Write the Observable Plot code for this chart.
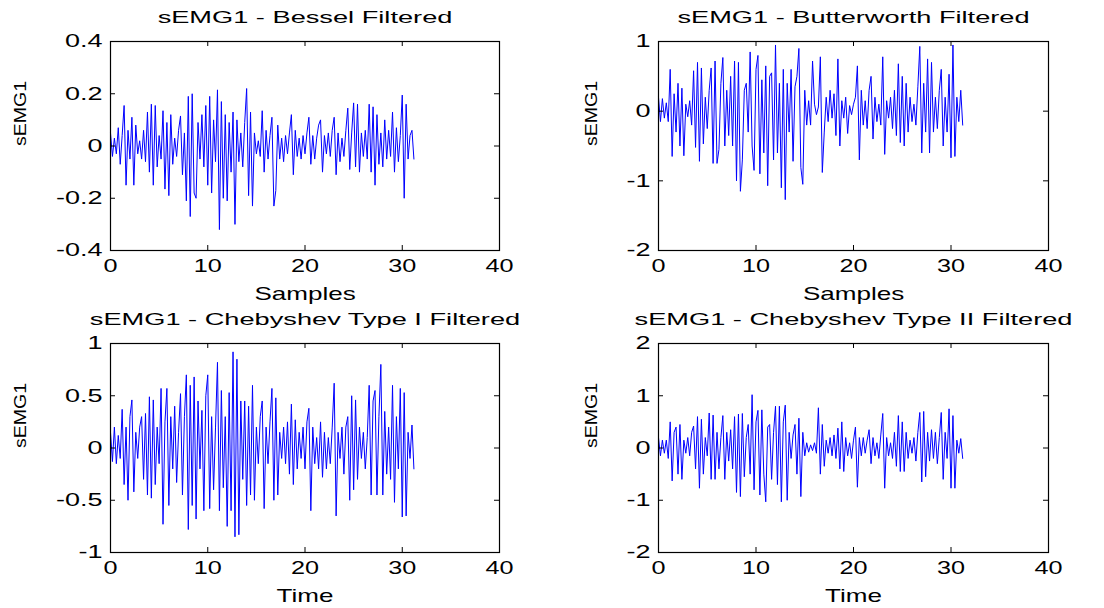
<!DOCTYPE html>
<html><head><meta charset="utf-8">
<script src="https://cdn.jsdelivr.net/npm/d3@7"></script>
<script src="https://cdn.jsdelivr.net/npm/@observablehq/plot@0.6"></script>
<style>
body{margin:0;background:#fff;}
#wrap{position:relative;width:1104px;height:608px;overflow:hidden;}
.panel{position:absolute;}
svg text{font-family:"Liberation Sans",Arial,sans-serif;}
</style></head><body><div id="wrap"></div>
<script>
const dt = 0.2;
const xTicks = [0, 10, 20, 30, 40];

const bessel = [
 0.05,-0.04,0.03,-0.03,0.07,-0.07,0.04,0.155,-0.15,0.06,
 -0.05,0.11,-0.15,0.08,-0.03,0.02,-0.05,0.06,-0.06,0.13,
 -0.1,0.16,-0.15,0.155,-0.08,0.04,-0.05,0.135,-0.165,0.09,
 -0.19,0.12,-0.07,0.03,-0.04,0.06,0.115,-0.11,0.05,-0.21,
 0.19,-0.27,0.2,-0.18,-0.2,0.09,-0.05,0.12,-0.08,0.155,
 -0.15,0.19,-0.18,0.1,-0.06,0.215,-0.32,0.17,-0.2,0.12,
 -0.21,0.09,-0.1,0.13,-0.3,0.1,-0.06,0.05,-0.08,0.09,
 0.22,-0.19,0.13,-0.23,0.05,-0.03,0.02,-0.04,0.135,-0.1,
 0.06,-0.05,0.04,0.11,-0.23,-0.17,0.08,-0.05,0.03,-0.06,
 0.04,-0.03,0.05,0.12,-0.11,0.06,-0.04,0.03,-0.05,0.04,
 -0.03,0.05,0.11,-0.07,0.04,-0.05,0.03,0.08,0.1,-0.1,
 0.04,-0.03,0.05,-0.04,0.06,0.11,-0.11,0.05,-0.06,0.03,
 -0.04,0.06,0.145,-0.09,0.05,0.165,-0.08,0.16,-0.1,0.05,
 -0.04,0.06,-0.05,0.16,-0.1,0.15,-0.15,0.12,-0.07,0.05,
 -0.08,0.1,-0.05,0.06,-0.04,0.13,-0.1,0.07,-0.06,0.04,
 0.195,-0.2,0.16,-0.05,0.04,0.06,-0.05
];
const butterworth = [
 0.2,-0.15,0.18,-0.1,0.12,-0.15,0.6,-0.65,0.25,-0.3,
 0.4,-0.5,0.33,-0.64,0.1,-0.08,0.15,-0.2,0.58,-0.52,
 0.7,-0.72,0.62,-0.47,0.2,-0.25,0.3,0.62,-0.75,0.72,
 -0.75,-0.55,0.4,0.77,-0.5,0.3,-0.35,0.5,-0.5,0.72,
 -1.0,0.7,-1.15,-0.7,0.3,0.4,-0.3,0.85,-0.5,-0.85,
 0.6,0.8,-0.9,0.45,-0.6,0.65,-1.07,0.5,0.55,-0.7,
 0.95,-0.6,0.4,-1.1,0.6,-1.27,0.4,-0.3,0.6,-0.72,
 0.35,0.5,0.9,-0.81,-1.05,0.3,-0.2,0.15,-0.2,0.72,
 0.1,-0.05,0.06,0.78,-0.88,-0.3,0.2,-0.15,0.3,-0.1,
 0.25,-0.35,0.75,-0.5,0.15,-0.1,0.2,-0.32,0.08,-0.05,
 0.1,0.2,0.65,-0.7,0.3,-0.2,0.15,-0.25,0.3,0.5,
 -0.4,0.2,-0.15,0.1,-0.2,0.78,-0.62,0.15,-0.1,0.2,
 -0.25,0.3,-0.35,0.68,-0.45,0.5,-0.5,0.4,-0.3,0.2,
 -0.15,0.1,-0.2,0.35,0.93,-0.6,0.4,-0.3,0.75,-0.6,
 0.7,-0.3,0.2,-0.25,0.3,0.6,-0.5,0.2,-0.3,0.53,
 -0.67,0.95,-0.65,0.2,-0.15,0.3,-0.2
];
const chebyshev1 = [
 0.15,-0.13,0.2,-0.15,0.12,-0.1,0.37,-0.35,0.2,-0.5,
 0.3,0.46,-0.42,0.15,-0.1,0.2,0.3,-0.3,0.33,-0.45,
 0.49,-0.48,0.46,-0.35,0.2,-0.15,0.57,-0.73,0.25,0.57,
 -0.55,0.3,-0.2,0.4,-0.33,0.15,0.52,-0.45,0.3,0.7,
 -0.78,0.6,-0.55,0.68,-0.68,0.45,-0.2,0.36,-0.6,0.5,
 0.7,-0.58,0.3,-0.4,0.2,0.82,-0.6,0.55,-0.38,0.3,
 -0.75,0.53,-0.6,0.92,-0.85,0.85,-0.83,0.45,-0.3,0.45,
 -0.55,0.4,-0.45,0.6,-0.5,0.2,-0.15,0.3,0.45,-0.58,
 0.2,-0.15,0.25,0.57,-0.5,0.48,-0.45,0.15,-0.1,0.2,
 -0.15,0.25,-0.25,0.42,-0.35,0.27,-0.2,0.15,-0.1,0.2,
 -0.2,0.25,0.38,-0.6,0.2,-0.15,0.1,-0.2,0.25,-0.28,
 0.15,-0.2,0.1,-0.15,0.2,0.62,-0.65,0.15,-0.1,0.2,
 -0.25,0.2,0.3,-0.5,0.5,-0.4,0.46,-0.3,0.2,-0.1,
 0.15,-0.2,0.1,0.6,-0.45,0.45,0.55,-0.45,0.3,0.8,
 -0.45,0.35,-0.25,0.2,-0.3,0.6,-0.52,0.3,-0.2,0.57,
 -0.66,0.53,-0.65,0.15,-0.1,0.22,-0.2
];
const chebyshev2 = [
 0.2,-0.15,0.15,-0.1,0.15,-0.2,0.5,-0.63,0.3,0.4,
 -0.5,0.45,-0.6,0.15,-0.1,0.2,-0.15,0.3,0.42,-0.4,
 0.6,-0.77,0.55,-0.5,0.2,-0.15,0.67,-0.6,0.63,-0.6,
 0.3,-0.4,0.2,0.62,-0.6,0.3,-0.25,0.35,-0.4,0.6,
 -0.85,0.65,-0.93,0.66,-0.55,0.2,0.45,-0.5,1.02,-0.8,
 0.5,0.72,-0.9,0.73,-0.5,-1.03,0.4,0.45,-0.6,0.3,
 0.8,-0.7,0.8,-1.03,0.5,0.82,-1.0,0.3,-0.2,0.25,
 0.45,-0.5,0.57,-0.93,0.3,-0.15,0.1,-0.08,0.06,-0.05,
 0.1,-0.1,0.77,-0.5,0.45,-0.35,0.15,-0.1,0.2,-0.15,
 0.25,-0.2,0.38,-0.4,0.5,-0.45,0.2,-0.15,0.1,-0.2,
 0.15,0.4,-0.75,0.2,-0.15,0.2,-0.1,0.15,0.35,-0.3,
 0.2,-0.15,0.1,-0.2,0.25,0.66,-0.77,0.2,-0.15,0.1,
 -0.2,0.3,-0.35,0.62,-0.45,0.5,-0.45,0.3,-0.2,0.15,
 -0.1,0.2,-0.25,0.3,0.68,-0.65,0.7,-0.55,0.3,-0.25,
 0.35,-0.2,0.3,-0.3,0.2,0.68,-0.6,0.3,-0.2,0.75,
 -0.77,0.62,-0.77,0.15,-0.1,0.18,-0.2
];

const titles = ["sEMG1 - Bessel Filtered", "sEMG1 - Butterworth Filtered",
  "sEMG1 - Chebyshev Type I Filtered", "sEMG1 - Chebyshev Type II Filtered"];
const xLabels = ["Samples", "Samples", "Time", "Time"];
const yLabel = "sEMG1";
const yTickSets = [[-0.4,-0.2,0,0.2,0.4],[-2,-1,0,1],[-1,-0.5,0,0.5,1],[-2,-1,0,1,2]];
const yDomains = [[-0.4,0.4],[-2,1],[-1,1],[-2,2]];
const seriesList = [bessel, butterworth, chebyshev1, chebyshev2];

const layout = [
  {left:0,   top:0,   ml:110, mr:53, mt:41, mb:54, ylx:20},
  {left:552, top:0,   ml:106, mr:56, mt:41, mb:54, ylx:39},
  {left:0,   top:304, ml:110, mr:53, mt:39, mb:56, ylx:20},
  {left:552, top:304, ml:106, mr:56, mt:39, mb:56, ylx:39}
];

const W = 552, H = 304, TK = 5;
const wrap = document.getElementById("wrap");

seriesList.forEach((vals, k) => {
  const L = layout[k];
  const data = vals.map((v, i) => ({t: i * dt, v}));
  const fw = W - L.ml - L.mr, fh = H - L.mt - L.mb;
  const fmt = d => String(d);
  const svg = Plot.plot({
    width: W, height: H,
    marginLeft: L.ml, marginRight: L.mr, marginTop: L.mt, marginBottom: L.mb,
    x: {domain: [0, 40], axis: null},
    y: {domain: yDomains[k], axis: null},
    style: {fontFamily: '"Liberation Sans", Arial, sans-serif', background: "transparent", overflow: "visible"},
    marks: [
      Plot.line(data, {x: "t", y: "v", stroke: "#0000ff", strokeWidth: 1}),
      Plot.tickX(xTicks, {x: d => d, insetTop: fh - TK, stroke: "#000"}),
      Plot.tickX(xTicks, {x: d => d, insetBottom: fh - TK, stroke: "#000"}),
      Plot.tickY(yTickSets[k], {y: d => d, insetRight: fw - TK, stroke: "#000"}),
      Plot.tickY(yTickSets[k], {y: d => d, insetLeft: fw - TK, stroke: "#000"}),
      Plot.frame({stroke: "#000", strokeWidth: 1.2}),
      Plot.axisX({ticks: xTicks, tickSize: 0, tickPadding: 9, anchor: "bottom", tickFormat: fmt, label: null, fontSize: 18, fill: "#000", className: "tlx"}),
      Plot.axisY({ticks: yTickSets[k], tickSize: 0, tickPadding: 8, anchor: "left", tickFormat: fmt, label: null, fontSize: 18, fill: "#000", className: "tly"}),
      Plot.text([titles[k]], {frameAnchor: "top", dy: -24, lineAnchor: "middle", fontSize: 17, fill: "#000", className: "ttl"}),
      Plot.text([xLabels[k]], {frameAnchor: "bottom", dy: 43, lineAnchor: "middle", fontSize: 19, fill: "#000", className: "xlab"}),
      Plot.text([yLabel], {frameAnchor: "left", dx: -(L.ml - L.ylx), rotate: -90, lineAnchor: "middle", fontSize: 16, fill: "#000", className: "ylab"})
    ]
  });
  const div = document.createElement("div");
  div.className = "panel";
  div.style.left = L.left + "px";
  div.style.top = L.top + "px";
  div.appendChild(svg);
  wrap.appendChild(div);
  const stretch = (sel, f, fixed) => {
    svg.querySelectorAll(sel + " text").forEach(el => {
      const len = el.getComputedTextLength();
      el.setAttribute("textLength", fixed ? fixed : len * f);
      el.setAttribute("lengthAdjust", "spacingAndGlyphs");
    });
  };
  stretch(".tlx", 1.4);
  stretch(".tly", 1.5);
  stretch(".ttl", 1.6);
  stretch(".xlab", 1.37);
  stretch(".ylab", 1, 65);
});
</script></body></html>
